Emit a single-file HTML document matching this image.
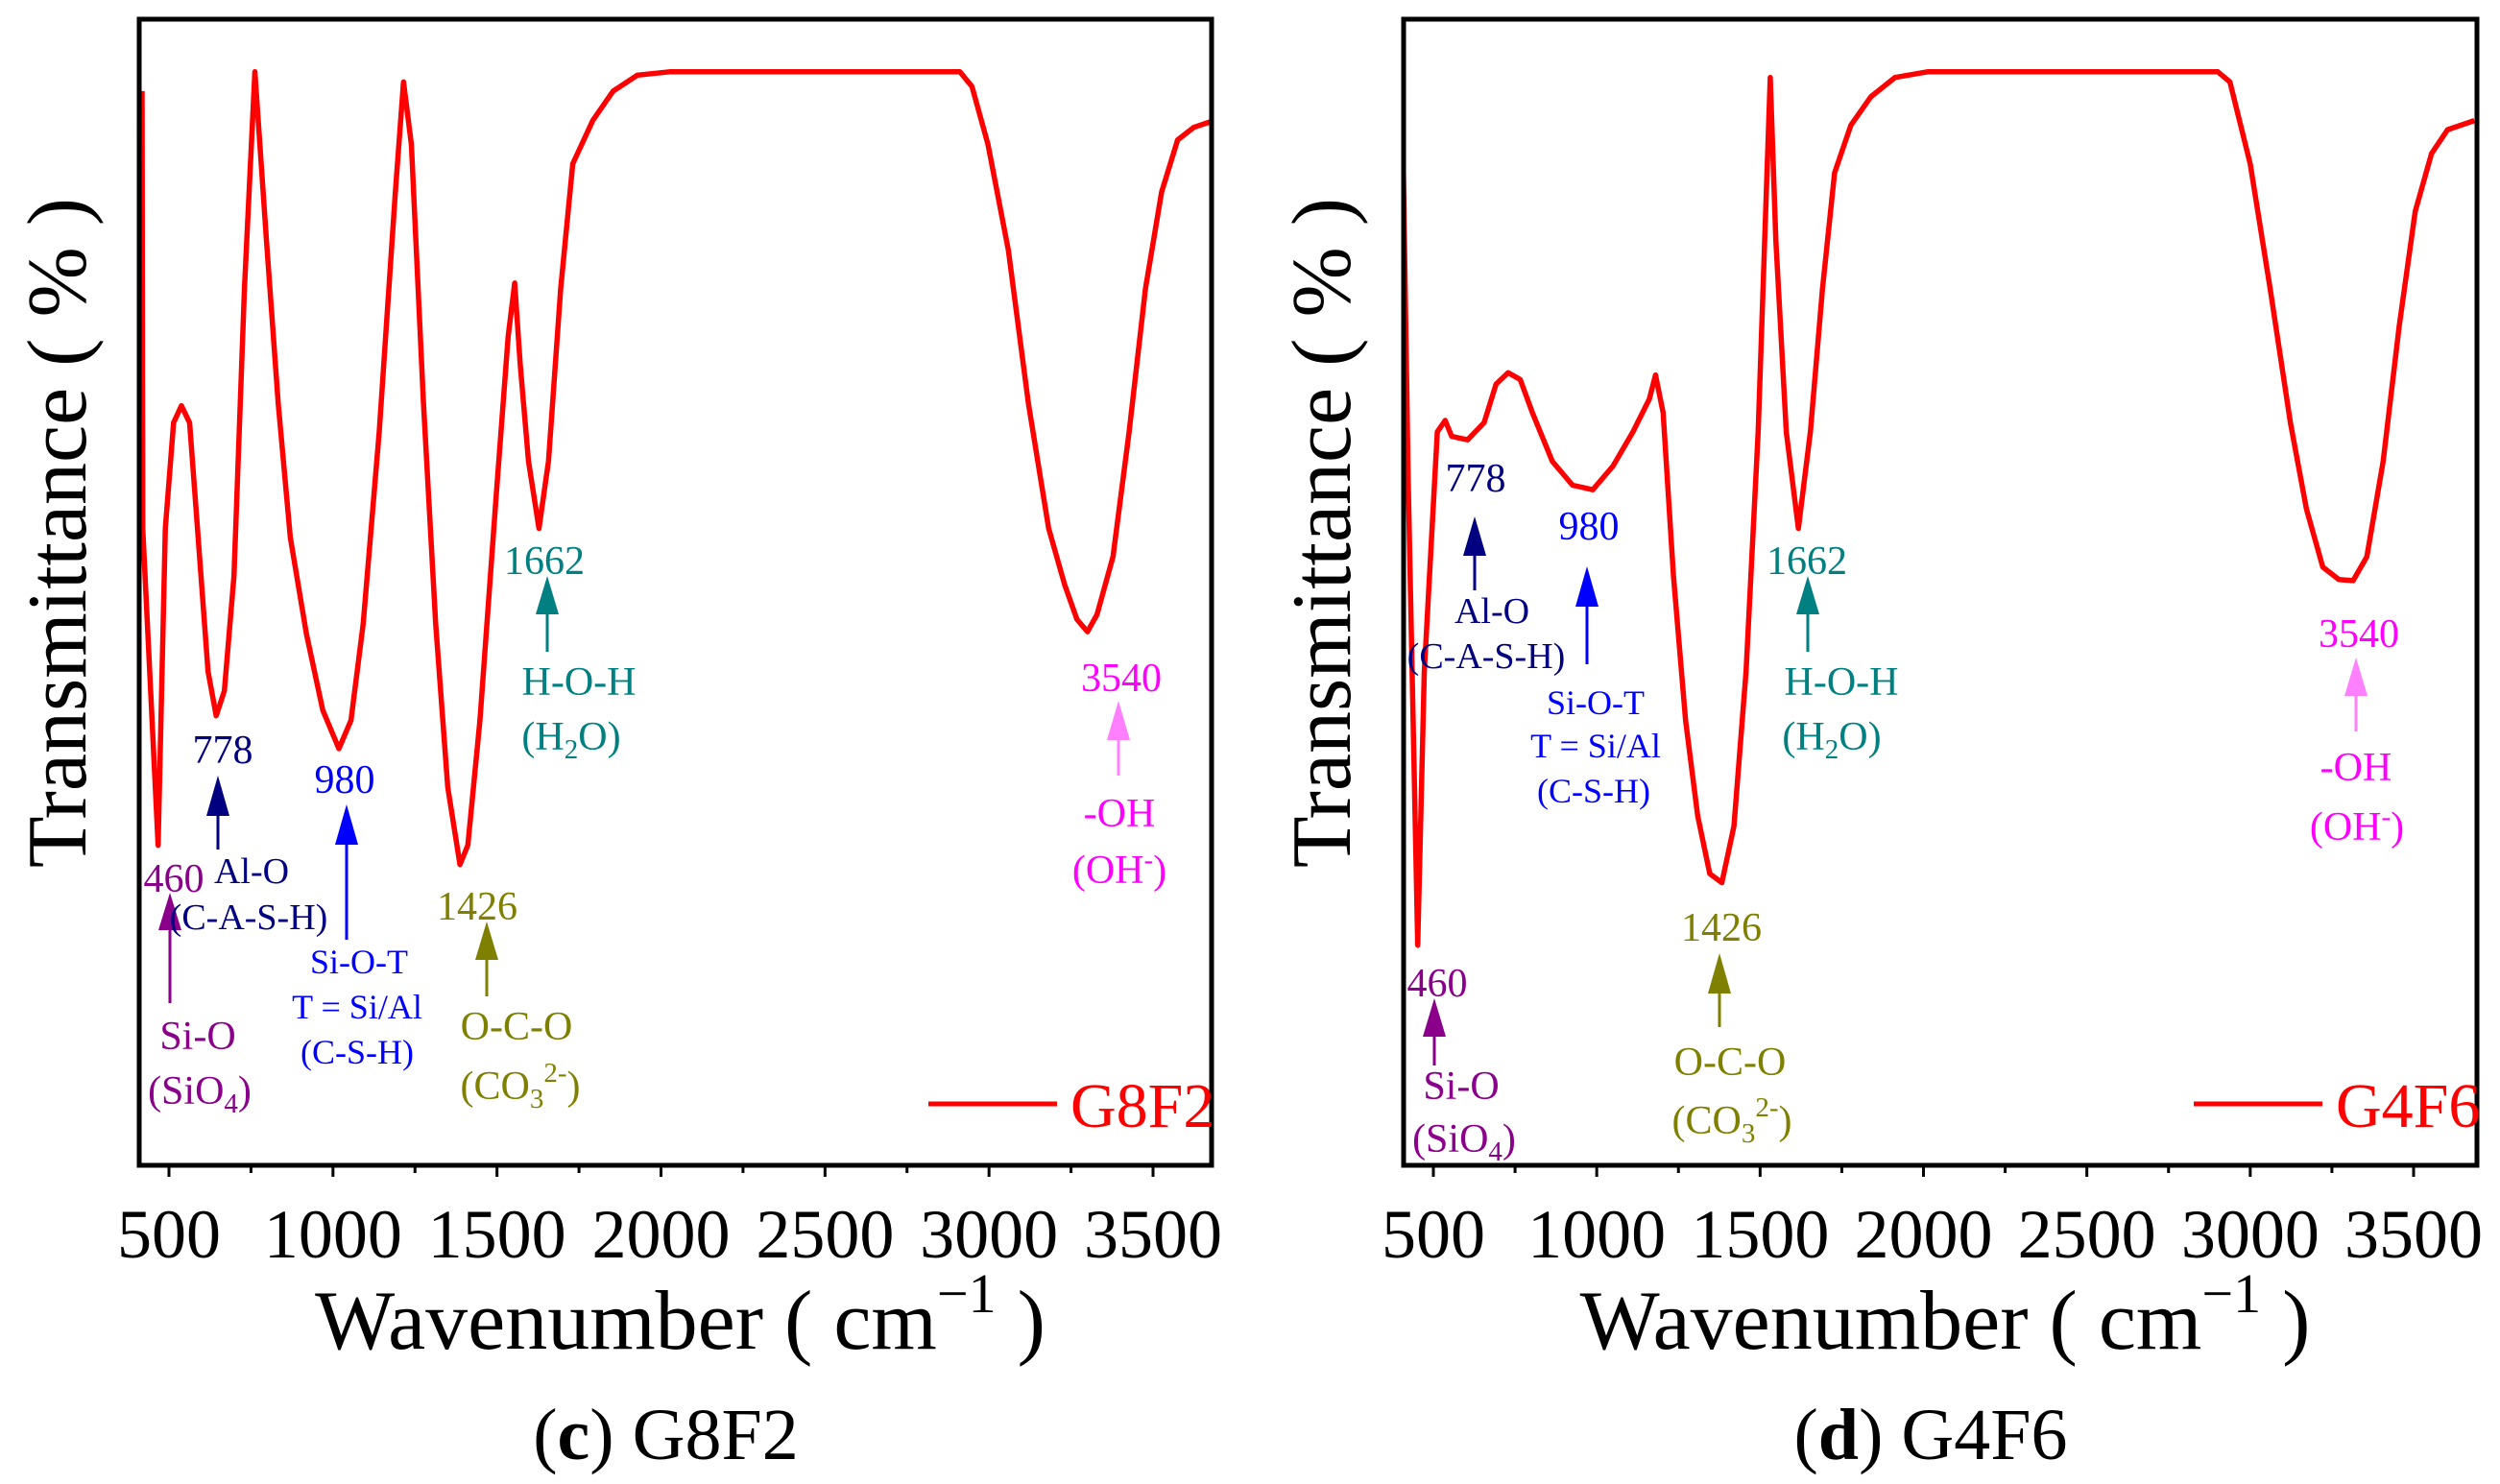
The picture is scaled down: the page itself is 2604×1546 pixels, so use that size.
<!DOCTYPE html>
<html><head><meta charset="utf-8"><style>
html,body{margin:0;padding:0;background:#fff;}
svg{display:block;font-family:"Liberation Serif",serif;}
</style></head><body>
<svg id="fig" width="2604" height="1546" viewBox="0 0 2604 1546" xmlns="http://www.w3.org/2000/svg">
<g id="panelC"></g>
<g id="panelD"></g>

<!-- Panel C annotations -->
<g text-anchor="middle">
<g fill="#8B008B" stroke="#8B008B">
<line x1="177" y1="964" x2="177" y2="1045" stroke-width="3"/><polygon points="165,969 189,969 177,930" stroke="none"/>
<text x="181" y="929" font-size="42" stroke="none">460</text>
<text x="206" y="1093" font-size="42" stroke="none">Si-O</text>
<text x="208" y="1150" font-size="42" stroke="none">(SiO<tspan font-size="29" dy="9">4</tspan><tspan dy="-9">)</tspan></text>
</g>
<g fill="#000080" stroke="#000080">
<line x1="227" y1="845" x2="227" y2="885" stroke-width="3"/><polygon points="215,850 239,850 227,808" stroke="none"/>
<text x="232" y="795" font-size="42" stroke="none">778</text>
<text x="262" y="920" font-size="38" stroke="none">Al-O</text>
<text x="259" y="968" font-size="38" stroke="none">(C-A-S-H)</text>
</g>
<g fill="#0000FF" stroke="#0000FF">
<line x1="361" y1="875" x2="361" y2="979" stroke-width="3"/><polygon points="349,880 373,880 361,838" stroke="none"/>
<text x="359" y="826" font-size="42" stroke="none">980</text>
<text x="374" y="1014" font-size="36" stroke="none">Si-O-T</text>
<text x="372" y="1061" font-size="36" stroke="none">T = Si/Al</text>
<text x="372" y="1108" font-size="36" stroke="none">(C-S-H)</text>
</g>
<g fill="#808000" stroke="#808000">
<line x1="507" y1="995" x2="507" y2="1038" stroke-width="3"/><polygon points="495,1000 519,1000 507,960" stroke="none"/>
<text x="497" y="958" font-size="42" stroke="none">1426</text>
<text x="538" y="1083" font-size="42" stroke="none">O-C-O</text>
<text x="542" y="1145" font-size="42" stroke="none">(CO<tspan font-size="29" dy="9">3</tspan><tspan font-size="29" dy="-27">2-</tspan><tspan dy="18">)</tspan></text>
</g>
<g fill="#008080" stroke="#008080">
<line x1="570" y1="636" x2="570" y2="679" stroke-width="3"/><polygon points="558,640 582,640 570,600" stroke="none"/>
<text x="567" y="598" font-size="42" stroke="none">1662</text>
<text x="603" y="724" font-size="42" stroke="none">H-O-H</text>
<text x="595" y="781" font-size="42" stroke="none">(H<tspan font-size="29" dy="9">2</tspan><tspan dy="-9">O)</tspan></text>
</g>
<g fill="#FF00FF" stroke="#FF80FF">
<line x1="1165" y1="767" x2="1165" y2="808" stroke-width="3"/><polygon points="1153,771 1177,771 1165,730" fill="#FF80FF" stroke="none"/>
<text x="1168" y="720" font-size="42" stroke="none">3540</text>
<text x="1166" y="861" font-size="42" stroke="none">-OH</text>
<text x="1166" y="920" font-size="42" stroke="none">(OH<tspan font-size="29" dy="-15">-</tspan><tspan dy="15">)</tspan></text>
</g>
</g>

<!-- Panel D annotations -->
<g text-anchor="middle">
<g fill="#8B008B" stroke="#8B008B">
<line x1="1494" y1="1075" x2="1494" y2="1110" stroke-width="3"/><polygon points="1482,1080 1506,1080 1494,1040" stroke="none"/>
<text x="1497" y="1038" font-size="42" stroke="none">460</text>
<text x="1522" y="1145" font-size="42" stroke="none">Si-O</text>
<text x="1525" y="1200" font-size="42" stroke="none">(SiO<tspan font-size="29" dy="9">4</tspan><tspan dy="-9">)</tspan></text>
</g>
<g fill="#000080" stroke="#000080">
<line x1="1536" y1="574" x2="1536" y2="615" stroke-width="3"/><polygon points="1524,579 1548,579 1536,538" stroke="none"/>
<text x="1537" y="512" font-size="42" stroke="none">778</text>
<text x="1554" y="649" font-size="38" stroke="none">Al-O</text>
<text x="1548" y="696" font-size="38" stroke="none">(C-A-S-H)</text>
</g>
<g fill="#0000FF" stroke="#0000FF">
<line x1="1653" y1="627" x2="1653" y2="692" stroke-width="3"/><polygon points="1641,632 1665,632 1653,590" stroke="none"/>
<text x="1655" y="562" font-size="42" stroke="none">980</text>
<text x="1662" y="744" font-size="36" stroke="none">Si-O-T</text>
<text x="1662" y="789" font-size="36" stroke="none">T = Si/Al</text>
<text x="1660" y="836" font-size="36" stroke="none">(C-S-H)</text>
</g>
<g fill="#808000" stroke="#808000">
<line x1="1791" y1="1030" x2="1791" y2="1070" stroke-width="3"/><polygon points="1779,1035 1803,1035 1791,993" stroke="none"/>
<text x="1793" y="980" font-size="42" stroke="none">1426</text>
<text x="1802" y="1120" font-size="42" stroke="none">O-C-O</text>
<text x="1804" y="1181" font-size="42" stroke="none">(CO<tspan font-size="29" dy="9">3</tspan><tspan font-size="29" dy="-27">2-</tspan><tspan dy="18">)</tspan></text>
</g>
<g fill="#008080" stroke="#008080">
<line x1="1883" y1="636" x2="1883" y2="679" stroke-width="3"/><polygon points="1871,640 1895,640 1883,600" stroke="none"/>
<text x="1882" y="598" font-size="42" stroke="none">1662</text>
<text x="1918" y="724" font-size="42" stroke="none">H-O-H</text>
<text x="1908" y="781" font-size="42" stroke="none">(H<tspan font-size="29" dy="9">2</tspan><tspan dy="-9">O)</tspan></text>
</g>
<g fill="#FF00FF" stroke="#FF80FF">
<line x1="2454" y1="720" x2="2454" y2="762" stroke-width="3"/><polygon points="2442,725 2466,725 2454,685" fill="#FF80FF" stroke="none"/>
<text x="2457" y="674" font-size="42" stroke="none">3540</text>
<text x="2454" y="813" font-size="42" stroke="none">-OH</text>
<text x="2455" y="875" font-size="42" stroke="none">(OH<tspan font-size="29" dy="-15">-</tspan><tspan dy="15">)</tspan></text>
</g>
</g>
</svg>
<script>
const xTicks = [500, 1000, 1500, 2000, 2500, 3000, 3500];
const xMinorTicks = [750, 1250, 1750, 2250, 2750, 3250];
const wnC = [418,420,467,489,514,538,563,587,619,644,669,698,730,762,797,833,870,919,969,1018,1055,1092,1141,1190,1215,1239,1276,1313,1350,1387,1411,1448,1497,1534,1554,1571,1596,1628,1657,1694,1731,1792,1854,1928,2026,2690,2911,2948,2997,3059,3120,3182,3231,3268,3300,3329,3378,3427,3477,3526,3575,3624,3686];
const tC = [95.1,56.6,28.7,56.6,65.9,67.4,65.9,56.6,44.0,40.1,42.3,52.4,77.7,96.8,82.0,67.6,55.8,47.3,40.6,37.2,39.7,48.2,65.1,86.2,95.9,90.4,67.6,48.2,33.8,27.0,28.7,39.7,59.2,73.5,78.2,71.0,62.5,56.6,62.5,77.7,88.7,92.5,95.1,96.5,96.8,96.8,96.8,95.5,90.4,81.1,67.6,56.6,51.6,48.6,47.5,49.0,54.1,65.1,77.7,86.2,90.8,91.9,92.5];
const wnD = [403,423,452,472,512,536,556,605,655,692,729,766,803,864,926,988,1050,1111,1161,1180,1203,1235,1272,1309,1346,1383,1420,1457,1494,1519,1531,1548,1580,1617,1654,1691,1728,1778,1839,1913,2012,2901,2938,3000,3061,3123,3172,3222,3271,3315,3357,3407,3456,3505,3555,3604,3686];
const tD = [97.4,60.8,19.9,43.9,65.1,66.1,64.7,64.4,65.9,69.3,70.3,69.7,66.8,62.5,60.4,60.0,62.1,65.1,68.0,70.1,66.8,52.4,39.7,31.3,26.2,25.4,30.4,44.0,65.1,86.2,96.3,82.0,65.1,56.6,65.1,77.7,87.9,92.1,94.6,96.3,96.8,96.8,95.9,88.7,77.7,65.9,58.3,53.2,52.1,52.0,54.1,62.5,74.4,84.5,89.6,91.7,92.5];

const NS = "http://www.w3.org/2000/svg";
function mk(parent, tag, attrs, text) {
  const e = document.createElementNS(NS, tag);
  for (const k in attrs) e.setAttribute(k, attrs[k]);
  if (text !== undefined) e.textContent = text;
  parent.appendChild(e);
  return e;
}
function panel(g, left, right, x500, x3500, wn, tv, name, letter) {
  const top = 20, bottom = 1214;
  const xs = w => x500 + (w - 500) * (x3500 - x500) / 3000;
  const ys = v => 1220.2 - v * 11.833;
  let d = "";
  wn.forEach((w, i) => { d += (i ? "L" : "M") + xs(w).toFixed(1) + "," + ys(tv[i]).toFixed(1); });
  const clip = mk(g, "clipPath", {id: "clip" + name});
  mk(clip, "rect", {x: left, y: top, width: right - left, height: bottom - top});
  const curve = mk(g, "path", {d: d, fill: "none", stroke: "#FF0000", "stroke-width": 5.5, "stroke-linejoin": "round", "clip-path": "url(#clip" + name + ")"});
  
  
  const frame = mk(g, "rect", {x: left, y: top, width: right - left, height: bottom - top, fill: "none", stroke: "#000", "stroke-width": 5});
  
  
  xTicks.forEach(t => {
    const tk = mk(g, "line", {x1: xs(t), x2: xs(t), y1: bottom, y2: bottom + 12, stroke: "#000", "stroke-width": 3});
    
    
    const lb = mk(g, "text", {x: xs(t), y: 1310, "font-size": 72, "text-anchor": "middle"}, String(t));
    
    
  });
  xMinorTicks.forEach(t => {
    const tk = mk(g, "line", {x1: xs(t), x2: xs(t), y1: bottom, y2: bottom + 8, stroke: "#000", "stroke-width": 3});
    
    
  });
  const cx = (left + right) / 2;
  const xt = mk(g, "text", {x: cx + 5, y: 1405, "font-size": 88, "text-anchor": "middle"});
  
  
  xt.innerHTML = 'Wavenumber ( cm<tspan font-size="58" dy="-38">&#8722;1</tspan><tspan dy="38"> )</tspan>';
  const yt = mk(g, "text", {x: 0, y: 0, "font-size": 88, "text-anchor": "middle", transform: "translate(" + (left - 56) + ",555) rotate(-90)"}, "Transmittance ( % )");
  
  
  const cap = mk(g, "text", {x: cx - 10, y: 1520, "font-size": 76, "text-anchor": "middle"});
  
  
  cap.innerHTML = '(<tspan font-weight="bold">' + letter + '</tspan>) ' + name;
  const ll = mk(g, "line", {x1: right - 295, x2: right - 161, y1: 1150, y2: 1150, stroke: "#FF0000", "stroke-width": 5});
  
  
  const lt = mk(g, "text", {x: right - 147, y: 1174, "font-size": 66, fill: "#FF0000"}, name);
  
  
}
panel(document.getElementById("panelC"), 145, 1262, 176, 1201, wnC, tC, "G8F2", "c");
panel(document.getElementById("panelD"), 1462, 2580, 1493, 2514, wnD, tD, "G4F6", "d");
</script>
</body></html>
